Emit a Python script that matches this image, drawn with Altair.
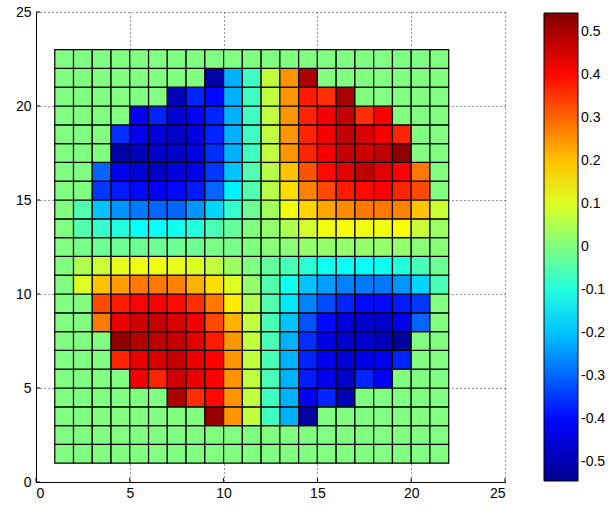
import altair as alt
import pandas as pd

# ---- data (cell value per grid cell) ----
x_ticks = [0, 5, 10, 15, 20, 25]
y_ticks = [0, 5, 10, 15, 20, 25]
cbar_ticks = [-0.5, -0.4, -0.3, -0.2, -0.1, 0, 0.1, 0.2, 0.3, 0.4, 0.5]
col_start = list(range(1, 22))   # cell left edges x = 1..21

row_22 = [0, 0, 0, 0, 0, 0, 0, 0, 0, 0, 0, 0, 0, 0, 0, 0, 0, 0, 0, 0, 0]
row_21 = [0, 0, 0, 0, 0, 0, 0, 0, -0.52, -0.22, -0.07, 0.07, 0.25, 0.50, 0, 0, 0, 0, 0, 0, 0]
row_20 = [0, 0, 0, 0, 0, 0, -0.50, -0.37, -0.40, -0.22, -0.07, 0.07, 0.25, 0.38, 0.36, 0.50, 0, 0, 0, 0, 0]
row_19 = [0, 0, 0, 0, -0.42, -0.37, -0.46, -0.42, -0.37, -0.22, -0.07, 0.07, 0.25, 0.37, 0.42, 0.47, 0.36, 0.41, 0, 0, 0]
row_18 = [0, 0, 0, -0.36, -0.43, -0.45, -0.47, -0.44, -0.37, -0.22, -0.07, 0.07, 0.25, 0.37, 0.42, 0.47, 0.45, 0.42, 0.37, 0, 0]
row_17 = [0, 0, 0, -0.52, -0.49, -0.47, -0.47, -0.44, -0.36, -0.22, -0.07, 0.07, 0.25, 0.37, 0.42, 0.47, 0.46, 0.48, 0.53, 0, 0]
row_16 = [0, 0, -0.30, -0.43, -0.46, -0.48, -0.45, -0.43, -0.35, -0.20, -0.05, 0.06, 0.20, 0.32, 0.40, 0.44, 0.48, 0.44, 0.41, 0.28, 0]
row_15 = [0, 0, -0.35, -0.38, -0.40, -0.41, -0.40, -0.38, -0.30, -0.15, -0.05, 0.06, 0.17, 0.27, 0.33, 0.38, 0.40, 0.41, 0.37, 0.33, 0]
row_14 = [0, -0.05, -0.20, -0.25, -0.28, -0.30, -0.30, -0.25, -0.18, -0.08, -0.02, 0.04, 0.12, 0.18, 0.23, 0.26, 0.28, 0.28, 0.27, 0.20, 0.08]
row_13 = [0, -0.05, -0.08, -0.10, -0.13, -0.13, -0.12, -0.10, -0.06, -0.03, 0, 0.02, 0.05, 0.09, 0.12, 0.13, 0.12, 0.12, 0.13, 0.08, 0.03]
row_12 = [0, -0.01, -0.02, -0.02, -0.02, -0.02, -0.02, -0.02, -0.01, -0.01, 0, 0.01, 0.01, 0.02, 0.02, 0.02, 0.02, 0.02, 0.02, 0.01, 0.01]
row_11 = [0, 0.05, 0.08, 0.11, 0.12, 0.12, 0.11, 0.10, 0.07, 0.03, 0, -0.03, -0.06, -0.09, -0.12, -0.13, -0.13, -0.12, -0.10, -0.06, -0.02]
row_10 = [0, 0.10, 0.20, 0.24, 0.28, 0.28, 0.27, 0.22, 0.17, 0.10, 0.02, -0.05, -0.12, -0.20, -0.24, -0.27, -0.28, -0.28, -0.25, -0.18, -0.06]
row_09 = [0, 0, 0.33, 0.38, 0.41, 0.41, 0.40, 0.36, 0.28, 0.16, 0.05, -0.05, -0.16, -0.27, -0.33, -0.37, -0.40, -0.40, -0.38, -0.35, 0]
row_08 = [0, 0, 0.28, 0.43, 0.46, 0.47, 0.45, 0.42, 0.33, 0.22, 0.07, -0.06, -0.20, -0.32, -0.40, -0.45, -0.47, -0.47, -0.43, -0.30, 0]
row_07 = [0, 0, 0, 0.53, 0.49, 0.48, 0.47, 0.44, 0.38, 0.25, 0.07, -0.06, -0.22, -0.36, -0.44, -0.47, -0.47, -0.49, -0.53, 0, 0]
row_06 = [0, 0, 0, 0.37, 0.43, 0.45, 0.47, 0.43, 0.41, 0.25, 0.07, -0.06, -0.22, -0.37, -0.43, -0.46, -0.44, -0.43, -0.37, 0, 0]
row_05 = [0, 0, 0, 0, 0.42, 0.37, 0.46, 0.43, 0.41, 0.25, 0.07, -0.06, -0.22, -0.38, -0.43, -0.47, -0.37, -0.42, 0, 0, 0]
row_04 = [0, 0, 0, 0, 0, 0, 0.50, 0.36, 0.40, 0.25, 0.07, -0.07, -0.22, -0.42, -0.37, -0.50, 0, 0, 0, 0, 0]
row_03 = [0, 0, 0, 0, 0, 0, 0, 0, 0.52, 0.25, 0.07, -0.07, -0.22, -0.52, 0, 0, 0, 0, 0, 0, 0]
row_02 = [0, 0, 0, 0, 0, 0, 0, 0, 0, 0, 0, 0, 0, 0, 0, 0, 0, 0, 0, 0, 0]
row_01 = [0, 0, 0, 0, 0, 0, 0, 0, 0, 0, 0, 0, 0, 0, 0, 0, 0, 0, 0, 0, 0]

rows_by_y = [
    (1, row_01), (2, row_02), (3, row_03), (4, row_04), (5, row_05), (6, row_06),
    (7, row_07), (8, row_08), (9, row_09), (10, row_10), (11, row_11), (12, row_12),
    (13, row_13), (14, row_14), (15, row_15), (16, row_16), (17, row_17), (18, row_18),
    (19, row_19), (20, row_20), (21, row_21), (22, row_22),
]

# jet colormap stops
jet_domain = [-0.545, -0.409, -0.136, 0.0, 0.136, 0.409, 0.545]
jet_colors = ["#00008f", "#0000ff", "#00ffff", "#80ff80", "#ffff00", "#ff0000", "#800000"]

records = []
for yv, row in rows_by_y:
    for xv, z in zip(col_start, row):
        records.append({"x0": xv, "x1": xv + 1, "y0": yv, "y1": yv + 1, "z": z})
df = pd.DataFrame(records)

font = "Liberation Sans"
xscale = alt.Scale(domain=[0, 25], nice=False, zero=False)
yscale = alt.Scale(domain=[0, 25], nice=False, zero=False)
xaxis = alt.Axis(values=x_ticks, format="d", labelPadding=4)
yaxis = alt.Axis(values=y_ticks, format="d", labelPadding=5)

cells = alt.Chart(df).mark_rect(stroke="black", strokeWidth=1.2).encode(
    x=alt.X("x0:Q", scale=xscale, title=None, axis=xaxis),
    x2="x1:Q",
    y=alt.Y("y0:Q", scale=yscale, title=None, axis=yaxis),
    y2="y1:Q",
    color=alt.Color(
        "z:Q",
        scale=alt.Scale(domain=jet_domain, range=jet_colors, interpolate="rgb"),
        legend=alt.Legend(
            title=None, orient="none", legendX=508, legendY=1,
            direction="vertical", gradientLength=468, gradientThickness=34,
            gradientStrokeColor="black", gradientStrokeWidth=1,
            values=cbar_ticks, labelFont=font, labelFontSize=14,
            labelColor="black", labelOffset=3,
            labelExpr="datum.value == 0 ? '0' : (datum.value < 0 ? '-' : '') + format(abs(datum.value), '.1f')",
        ),
    ),
)

xt = pd.DataFrame({"t": x_ticks})
yt = pd.DataFrame({"t": y_ticks})
tick_x_bottom = alt.Chart(xt).mark_rule(color="black").encode(
    x=alt.X("t:Q", scale=xscale, title=None, axis=xaxis), y=alt.value(470), y2=alt.value(466))
tick_y_left = alt.Chart(yt).mark_rule(color="black").encode(
    y=alt.Y("t:Q", scale=yscale, title=None, axis=yaxis), x=alt.value(0), x2=alt.value(4))

chart = alt.layer(cells, tick_x_bottom, tick_y_left).properties(
    width=469, height=470,
    autosize=alt.AutoSizeParams(type="none"),
    padding={"left": 36, "top": 12, "right": 103, "bottom": 26},
    background="white",
).configure_axis(
    labelFont=font, labelFontSize=14, labelColor="black",
    domainColor="black", ticks=False,
    grid=True, gridColor="black", gridDash=[1, 3], gridOpacity=0.8, gridWidth=1,
).configure_view(strokeWidth=0)

chart.save("out.html", embed_options={"renderer": "svg", "actions": False})
